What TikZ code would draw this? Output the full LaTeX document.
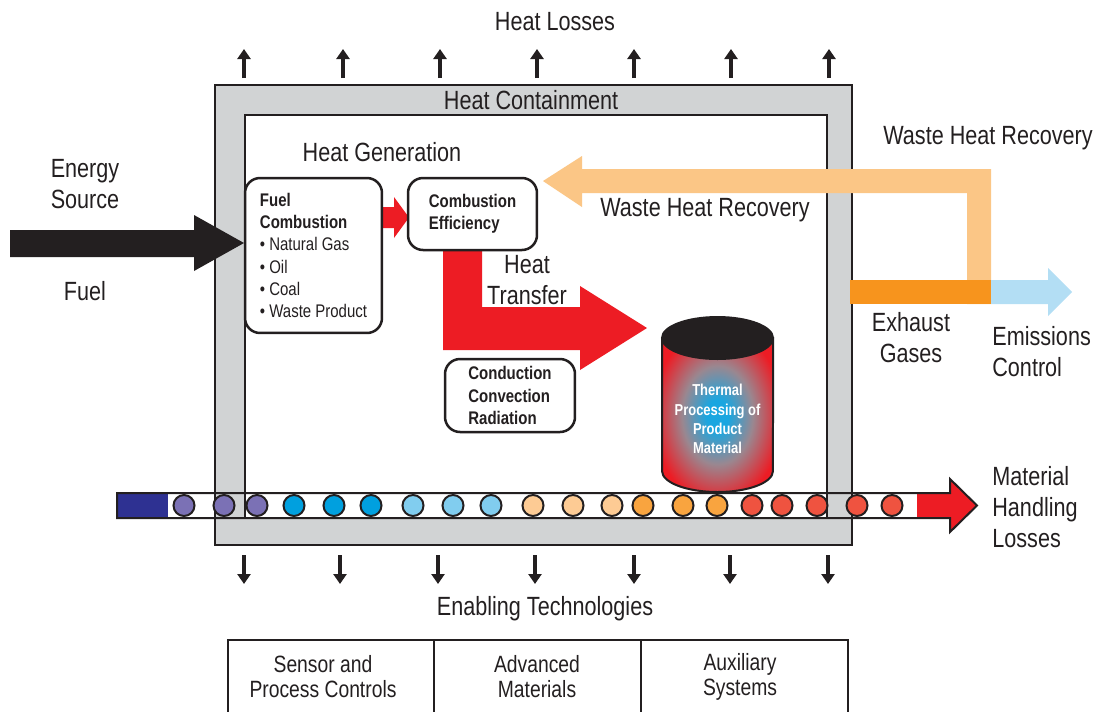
\documentclass[tikz,border=0pt]{standalone}
\usepackage{fontspec}
\setmainfont{Liberation Sans}[FakeStretch=0.82]
\usetikzlibrary{arrows.meta}
\definecolor{dark}{HTML}{231F20}
\definecolor{wall}{HTML}{D1D3D4}
\definecolor{hotred}{HTML}{ED1C24}
\definecolor{wasteorange}{HTML}{FBC686}
\definecolor{exhaustorange}{HTML}{F7941D}
\definecolor{emisblue}{HTML}{B3DEF4}
\definecolor{navy}{HTML}{2E3192}
\definecolor{beadpurple}{HTML}{7B71B5}
\definecolor{beadblue}{HTML}{00A0DF}
\definecolor{beadlblue}{HTML}{81CDEF}
\definecolor{beadpeach}{HTML}{FDCB94}
\definecolor{beadorange}{HTML}{F9A43F}
\definecolor{beadred}{HTML}{EF5340}
\definecolor{coreblue}{HTML}{1AA6E0}
\definecolor{coregray}{HTML}{9A8790}
\pgfdeclareradialshading{thermal}{\pgfpoint{0bp}{0bp}}{color(0bp)=(coreblue); color(5bp)=(coreblue); color(16bp)=(coregray); color(29bp)=(hotred); color(50bp)=(hotred)}
\begin{document}
\begin{tikzpicture}[x=0.02cm, y=-0.02cm,
  lbl/.style={font=\fontsize{15}{17.6}\selectfont, align=center, inner sep=0pt, text=dark},
  box/.style={draw=dark, fill=white, line width=0.05cm, rounded corners=0.3cm, align=left, font=\bfseries\fontsize{10.4}{12.6}\selectfont, text=dark, inner sep=0pt},
  loss/.style={draw=dark, line width=0.08cm, -{Triangle[length=0.2cm, width=0.26cm]}},
  bead/.style={draw=dark, line width=0.04cm}]
\useasboundingbox (0,0) rectangle (1094,711);
% furnace walls
\draw[draw=dark, fill=wall, line width=0.04cm] (215,85) rectangle (852,545);
\draw[draw=dark, fill=white, line width=0.04cm] (245,115) rectangle (827,518);
\node[lbl] (containment) at (531,100) {Heat Containment};
% waste heat loop and exhaust
\fill[wasteorange] (543,181) -- (582,156) -- (582,169) -- (991,169) -- (991,304) -- (967,304) -- (967,193) -- (582,193) -- (582,207) -- cycle;
\fill[exhaustorange] (850,280) rectangle (991,304);
\fill[emisblue] (991,280) -- (1048,280) -- (1048,268) -- (1072,292) -- (1048,316) -- (1048,304) -- (991,304) -- cycle;
% heat transfer
\fill[hotred] (443,245) -- (482,245) -- (482,307) -- (580,307) -- (580,286) -- (647,328) -- (580,370) -- (580,350) -- (443,350) -- cycle;
\fill[hotred] (380,207) -- (394,207) -- (394,197) -- (409,217.5) -- (394,238) -- (394,228) -- (380,228) -- cycle;
% fuel in
\fill[dark] (10,230) -- (194,230) -- (194,215) -- (244,243) -- (194,271) -- (194,257) -- (10,257) -- cycle;
% boxes
\node[box, minimum width=2.74cm, minimum height=3.1cm] (fuel) at (313.5,255.5) {Fuel\\Combustion\\\mdseries\textbullet\ Natural Gas\\\mdseries\textbullet\ Oil\\\mdseries\textbullet\ Coal\\\mdseries\textbullet\ Waste Product};
\node[box, minimum width=2.58cm, minimum height=1.44cm] (efficiency) at (472.5,214) {Combustion\\Efficiency};
\node[box, minimum width=2.6cm, minimum height=1.46cm] (modes) at (510,395.5) {Conduction\\Convection\\Radiation};
% product cylinder
\shadedraw[shading=thermal, draw=dark, line width=0.04cm] (662,338) -- (662,471) arc[start angle=180, end angle=360, x radius=1.11cm, y radius=0.42cm] -- (773,338) -- cycle;
\draw[fill=dark, draw=dark, line width=0.04cm] (717.5,338) ellipse[x radius=1.11cm, y radius=0.42cm];
\node[font=\bfseries\fontsize{9}{11}\selectfont, text=white, align=center, inner sep=0pt] (thermal) at (717.5,419) {Thermal\\Processing of\\Product\\Material};
% conveyor
\fill[navy] (117,493) rectangle (168,518);
\fill[hotred] (917,493) -- (950,493) -- (950,479) -- (977,505.5) -- (950,532) -- (950,518) -- (917,518) -- cycle;
\draw[bead, fill=beadpurple] (184,505.5) circle (0.21cm);
\draw[bead, fill=beadpurple] (224,505.5) circle (0.21cm);
\draw[bead, fill=beadpurple] (257,505.5) circle (0.21cm);
\draw[bead, fill=beadblue] (294,505.5) circle (0.21cm);
\draw[bead, fill=beadblue] (334,505.5) circle (0.21cm);
\draw[bead, fill=beadblue] (371,505.5) circle (0.21cm);
\draw[bead, fill=beadlblue] (413,505.5) circle (0.21cm);
\draw[bead, fill=beadlblue] (453,505.5) circle (0.21cm);
\draw[bead, fill=beadlblue] (491,505.5) circle (0.21cm);
\draw[bead, fill=beadpeach] (533,505.5) circle (0.21cm);
\draw[bead, fill=beadpeach] (573,505.5) circle (0.21cm);
\draw[bead, fill=beadpeach] (612,505.5) circle (0.21cm);
\draw[bead, fill=beadorange] (643,505.5) circle (0.21cm);
\draw[bead, fill=beadorange] (683,505.5) circle (0.21cm);
\draw[bead, fill=beadorange] (717,505.5) circle (0.21cm);
\draw[bead, fill=beadred] (752,505.5) circle (0.21cm);
\draw[bead, fill=beadred] (782,505.5) circle (0.21cm);
\draw[bead, fill=beadred] (817,505.5) circle (0.21cm);
\draw[bead, fill=beadred] (857,505.5) circle (0.21cm);
\draw[bead, fill=beadred] (892,505.5) circle (0.21cm);
\draw[draw=dark, line width=0.04cm] (117,493) -- (950,493) -- (950,479) -- (977,505.5) -- (950,532) -- (950,518) -- (117,518) -- cycle;
% heat losses up, enabling technologies down
\draw[loss] (244,78) -- (244,49);
\draw[loss] (343,78) -- (343,49);
\draw[loss] (440,78) -- (440,49);
\draw[loss] (537,78) -- (537,49);
\draw[loss] (634,78) -- (634,49);
\draw[loss] (731,78) -- (731,49);
\draw[loss] (829,78) -- (829,49);
\draw[loss] (244,555) -- (244,584);
\draw[loss] (340,555) -- (340,584);
\draw[loss] (438,555) -- (438,584);
\draw[loss] (535,555) -- (535,584);
\draw[loss] (634,555) -- (634,584);
\draw[loss] (730,555) -- (730,584);
\draw[loss] (828,555) -- (828,584);
% labels
\node[lbl] (losses) at (555,22) {Heat Losses};
\node[lbl] (generation) at (382,152) {Heat Generation};
\node[lbl] (source) at (85,184) {Energy\\Source};
\node[lbl] (fuellbl) at (85,291) {Fuel};
\node[lbl] (recovin) at (705,210) {Waste Heat Recovery};
\node[lbl] (recovout) at (988,138) {Waste Heat Recovery};
\node[lbl] (transfer) at (527,280) {Heat\\Transfer};
\node[lbl] (exhaust) at (911,338) {Exhaust\\Gases};
\node[lbl, anchor=west, align=left] (emissions) at (992,352) {Emissions\\Control};
\node[lbl, anchor=west, align=left] (handling) at (992,507) {Material\\Handling\\Losses};
\node[lbl] (enabling) at (545,609) {Enabling Technologies};
% technologies table
\draw[draw=dark, line width=0.04cm] (228,720) -- (228,640) -- (848,640) -- (848,720);
\draw[draw=dark, line width=0.04cm] (434,640) -- (434,720);
\draw[draw=dark, line width=0.04cm] (641,640) -- (641,720);
\node[lbl, font=\fontsize{13.4}{14.2}\selectfont] (sensor) at (323,677) {Sensor and\\Process Controls};
\node[lbl, font=\fontsize{13.4}{14.2}\selectfont] (advanced) at (537,677) {Advanced\\Materials};
\node[lbl, font=\fontsize{13.4}{14.2}\selectfont] (auxiliary) at (740,677) {Auxiliary\\Systems};
\end{tikzpicture}
\end{document}
